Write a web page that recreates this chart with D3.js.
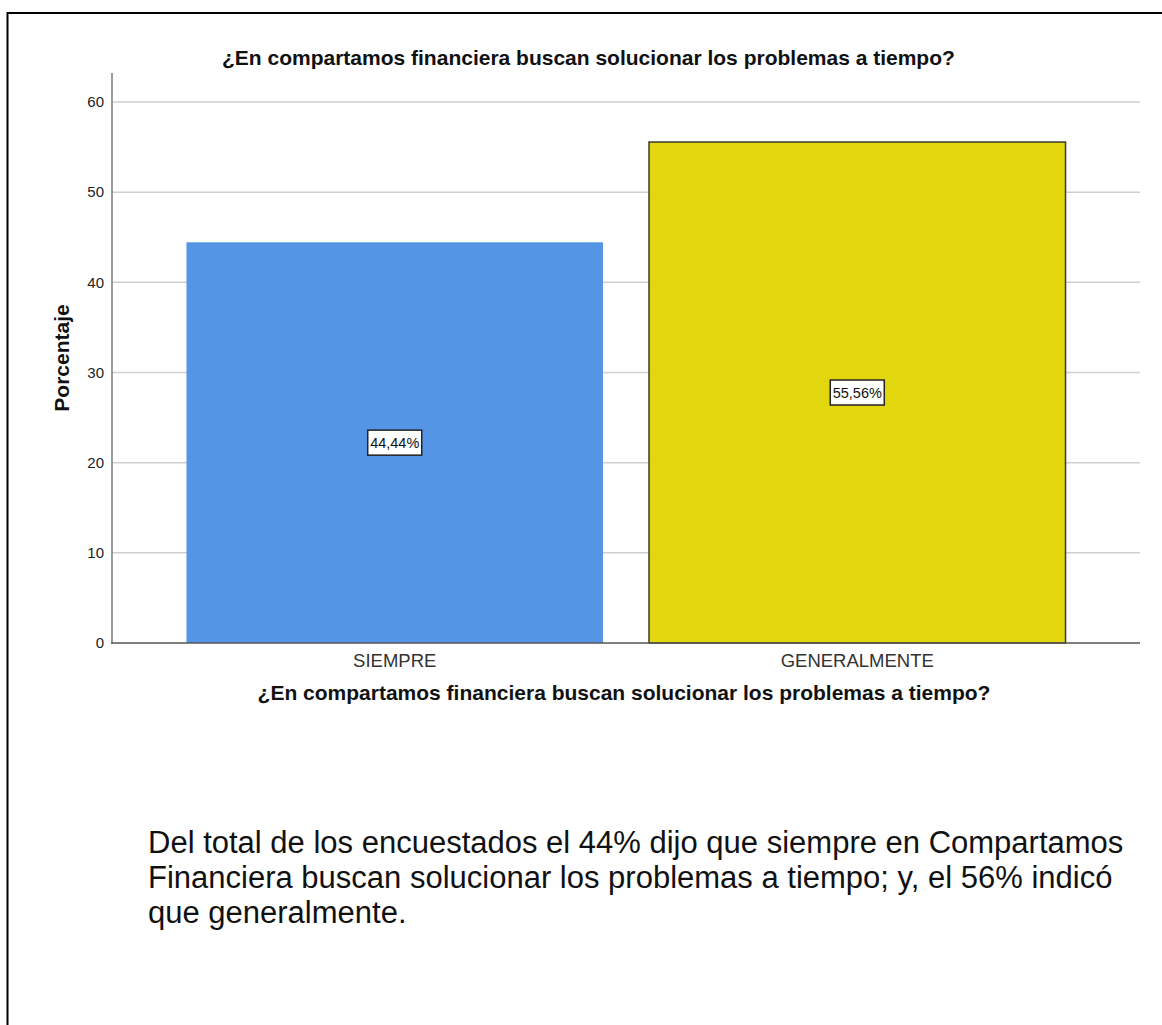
<!DOCTYPE html>
<html><head><meta charset="utf-8">
<script src="https://cdn.jsdelivr.net/npm/d3@7"></script>
<style>body{margin:0;background:#fff}svg{display:block}</style>
</head><body>
<svg id="c" width="1162" height="1025"></svg>
<script>
const categories = ["SIEMPRE", "GENERALMENTE"];
const values = [44.44, 55.56];
const valueLabels = ["44,44%", "55,56%"];
const yTicks = [0, 10, 20, 30, 40, 50, 60];
const barColors = ["#5595E5", "#E2D70E"];
const barStrokes = ["none", "#3a3a2a"];
const titleText = "¿En compartamos financiera buscan solucionar los problemas a tiempo?";
const yTitle = "Porcentaje";
const bodyLines = [
  "Del total de los encuestados el 44% dijo que siempre en Compartamos",
  "Financiera buscan solucionar los problemas a tiempo; y, el 56% indicó",
  "que generalmente."
];

const svg = d3.select("#c");
const font = "Liberation Sans, Arial, sans-serif";
// frame
svg.append("rect").attr("x", 7.5).attr("y", 13).attr("width", 1200).attr("height", 1100)
  .attr("fill", "none").attr("stroke", "#000").attr("stroke-width", 2);

const x = d3.scaleBand().domain(categories).range([112, 1140]).paddingInner(0.0995).paddingOuter(0.161);
const y = d3.scaleLinear().domain([0, 60]).range([643, 102]);

// gridlines
svg.append("g").selectAll("line").data(yTicks.filter(d => d > 0)).join("line")
  .attr("x1", 112).attr("x2", 1140).attr("y1", d => y(d)).attr("y2", d => y(d))
  .attr("stroke", "#cfcfcf").attr("stroke-width", 1.5);

// bars
svg.append("g").selectAll("rect").data(values).join("rect")
  .attr("x", (d, i) => x(categories[i])).attr("width", x.bandwidth())
  .attr("y", d => y(d)).attr("height", d => y(0) - y(d))
  .attr("fill", (d, i) => barColors[i])
  .attr("stroke", (d, i) => barStrokes[i]).attr("stroke-width", 1.5);

// axes
const yAxis = d3.axisLeft(y).tickValues(yTicks).tickSize(0).tickPadding(8).tickFormat(d3.format("d"));
const gy = svg.append("g").attr("transform", "translate(112,0)").call(yAxis);
gy.select(".domain").remove();
gy.selectAll("text").attr("font-family", font).attr("font-size", 15).attr("fill", "#222");
svg.append("line").attr("x1", 112).attr("x2", 112).attr("y1", 73).attr("y2", 643.5)
  .attr("stroke", "#7a7a7a").attr("stroke-width", 1.5);

const xAxis = d3.axisBottom(x).tickSize(0).tickPadding(11);
const gx = svg.append("g").attr("transform", "translate(0,643)").call(xAxis);
gx.select(".domain").remove();
gx.selectAll("text").attr("font-family", font).attr("font-size", 18.5).attr("fill", "#333");
svg.append("line").attr("x1", 111).attr("x2", 1140).attr("y1", 643).attr("y2", 643)
  .attr("stroke", "#555").attr("stroke-width", 1.5);

// value labels
const lab = svg.append("g").selectAll("g").data(values).join("g")
  .attr("transform", (d, i) => `translate(${x(categories[i]) + x.bandwidth() / 2},${(y(d) + y(0)) / 2})`);
lab.append("rect").attr("x", -27).attr("y", -12.5).attr("width", 54).attr("height", 25)
  .attr("fill", "#fff").attr("stroke", "#222").attr("stroke-width", 1.5);
lab.append("text").text((d, i) => valueLabels[i]).attr("text-anchor", "middle").attr("dy", "0.35em")
  .attr("font-family", font).attr("font-size", 14.5).attr("fill", "#111");

// titles
svg.append("text").text(titleText).attr("x", 222).attr("y", 65)
  .attr("font-family", font).attr("font-weight", "bold").attr("font-size", 21).attr("fill", "#111");
svg.append("text").text(titleText).attr("x", 624).attr("y", 700).attr("text-anchor", "middle")
  .attr("font-family", font).attr("font-weight", "bold").attr("font-size", 21).attr("fill", "#111");
svg.append("text").text(yTitle).attr("transform", "translate(69,358) rotate(-90)").attr("text-anchor", "middle")
  .attr("font-family", font).attr("font-weight", "bold").attr("font-size", 21).attr("fill", "#111");

// body text
svg.append("g").selectAll("text").data(bodyLines).join("text")
  .text(d => d).attr("x", 148).attr("y", (d, i) => 853 + i * 35)
  .attr("font-family", font).attr("font-size", 31).attr("fill", "#111");
</script>
</body></html>
